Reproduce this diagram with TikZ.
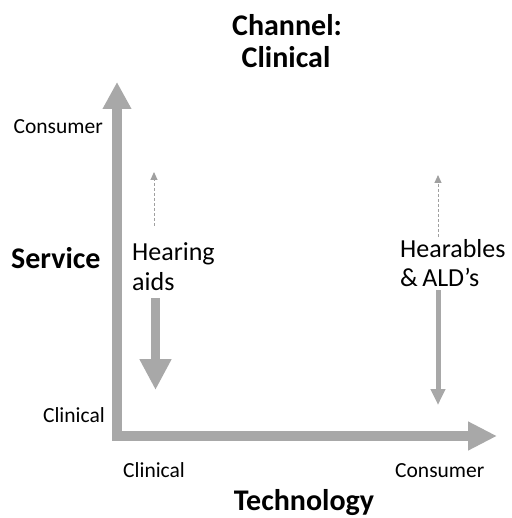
\documentclass[tikz,border=0pt]{standalone}
\usepackage{fontspec}
\setmainfont{Carlito}
\usetikzlibrary{arrows.meta}
\definecolor{axisgray}{RGB}{168,168,168}
\definecolor{dashgray}{RGB}{160,160,160}
\begin{document}
\begin{tikzpicture}[x=1pt,y=-1pt,
  bigtxt/.style={font=\fontsize{30}{34}\selectfont\bfseries, inner sep=0pt},
  smalltxt/.style={font=\fontsize{21.5}{24}\selectfont, inner sep=0pt},
  labtxt/.style={font=\fontsize{26}{30}\selectfont, inner sep=0pt, align=left},
  axisarrow/.style={draw=axisgray, line width=10pt, line join=miter,
     {Triangle[width=27pt,length=27pt,fill=axisgray]}-{Triangle[width=27pt,length=29pt,fill=axisgray]}},
  dasharrow/.style={draw=dashgray, line width=1pt, dash pattern=on 3pt off 2pt,
     -{Triangle[width=7pt,length=8pt,fill=dashgray]}},
  movearrow/.style={draw=axisgray, -{Triangle[fill=axisgray]}}
]
\useasboundingbox (0,0) rectangle (511,518);
\fill[white] (0,0) rectangle (511,518);

% axes
\coordinate (ytip) at (117,82);
\coordinate (origin) at (117,436);
\coordinate (xtip) at (497,436);
\draw[axisarrow] (ytip) -- (origin) -- (xtip);

% texts
\node[bigtxt, anchor=base] (title1) at (287,36) {Channel:};
\node[bigtxt, anchor=base] (title2) at (286,68) {Clinical};
\node[bigtxt, anchor=base west] (service) at (11,268) {Service};
\node[bigtxt, anchor=base] (tech) at (304,510) {Technology};
\node[smalltxt, anchor=base east] (ycons) at (103,134) {Consumer};
\node[smalltxt, anchor=base east] (yclin) at (105,422) {Clinical};
\node[smalltxt, anchor=base west] (xclin) at (123,477) {Clinical};
\node[smalltxt, anchor=base west] (xcons) at (395,477) {Consumer};
\node[labtxt, anchor=base west] (ha1) at (132,260) {Hearing};
\node[labtxt, anchor=base west] (ha2) at (132,290) {aids};
\node[labtxt, anchor=base west] (he1) at (400,257) {Hearables};
\node[labtxt, anchor=base west] (he2) at (400,286) {\&\,ALD’s};

% hearing aids arrows
\coordinate (hadash0) at (154,226);
\coordinate (hadash1) at (154,172);
\draw[dasharrow] (hadash0) -- (hadash1);
\coordinate (hadown0) at (155.5,298);
\coordinate (hadown1) at (155.5,390);
\draw[movearrow, line width=9pt, -{Triangle[width=30pt,length=31pt,fill=axisgray]}] (hadown0) -- (hadown1);

% hearables arrows
\coordinate (hedash0) at (438,237);
\coordinate (hedash1) at (438,175);
\draw[dasharrow] (hedash0) -- (hedash1);
\coordinate (hedown0) at (438,290);
\coordinate (hedown1) at (438,405);
\draw[movearrow, line width=5pt, -{Triangle[width=14pt,length=16pt,fill=axisgray]}] (hedown0) -- (hedown1);
\end{tikzpicture}
\end{document}
